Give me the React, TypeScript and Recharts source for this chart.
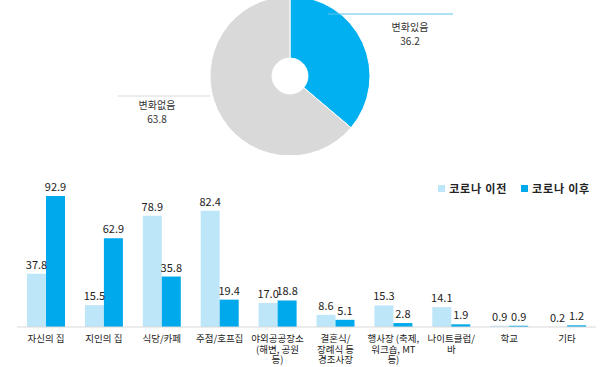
import React from 'react';
import { PieChart, Pie, Cell, BarChart, Bar, XAxis, YAxis, Legend, LabelList } from 'recharts';

const pieNames = ['변화있음', '변화없음'];
const pieValues = [36.2, 63.8];
const pieColors = ['#00B0F0', '#D9D9D9'];

const places = [
  '자신의 집',
  '지인의 집',
  '식당/카페',
  '주점/호프집',
  '야외공공장소\n(해변, 공원\n등)',
  '결혼식/\n장례식 등\n경조사장',
  '행사장 (축제,\n워크숍, MT\n등)',
  '나이트클럽/\n바',
  '학교',
  '기타',
];
const beforeCovid = [37.8, 15.5, 78.9, 82.4, 17.0, 8.6, 15.3, 14.1, 0.9, 0.2];
const afterCovid = [92.9, 62.9, 35.8, 19.4, 18.8, 5.1, 2.8, 1.9, 0.9, 1.2];

const FONT = '"Noto Sans CJK KR", "Noto Sans", sans-serif';
const LIGHT = '#BDE6F9';
const DARK = '#00A9EC';

const pieData = pieNames.map((name, i) => ({ name, value: pieValues[i] }));
const barData = places.map((place, i) => ({
  place,
  before: beforeCovid[i],
  after: afterCovid[i],
}));

// leader line + two-line label for each slice
const renderPieLabel = (props: any) => {
  const { cx, cy, midAngle, name, value, index } = props;
  const right = Math.cos((-midAngle * Math.PI) / 180) > 0;
  if (right) {
    return (
      <g key={index}>
        <line x1={cx + 38} y1={cy - 62} x2={cx + 163} y2={cy - 62} stroke="#5BC3EE" strokeWidth={1} />
        <text x={cx + 120} y={cy - 45} textAnchor="middle" fontSize={10} fill="#333" fontFamily={FONT}>{name}</text>
        <text x={cx + 120} y={cy - 31} textAnchor="middle" fontSize={10} fill="#333" fontFamily={FONT}>{value.toFixed(1)}</text>
      </g>
    );
  }
  return (
    <g key={index}>
      <line x1={cx - 172} y1={cy + 20} x2={cx - 80} y2={cy + 20} stroke="#D9D9D9" strokeWidth={1} />
      <text x={cx - 133} y={cy + 33} textAnchor="middle" fontSize={10} fill="#333" fontFamily={FONT}>{name}</text>
      <text x={cx - 133} y={cy + 47} textAnchor="middle" fontSize={10} fill="#333" fontFamily={FONT}>{value.toFixed(1)}</text>
    </g>
  );
};

const PlaceTick = (props: any) => {
  const { x, y, payload } = props;
  const lines = String(payload.value).split('\n');
  return (
    <g transform={`translate(${x},${y})`}>
      {lines.map((l: string, i: number) => (
        <text key={i} x={0} y={7 + i * 10.5} textAnchor="middle" fontSize={9.5} fill="#222" fontFamily={FONT}>
          {l}
        </text>
      ))}
    </g>
  );
};

const LegendBox = () => (
  <div style={{ display: 'flex', justifyContent: 'flex-end', gap: 14, fontFamily: FONT, fontSize: 11, color: '#222', fontWeight: 600, letterSpacing: 0.8 }}>
    {[{ c: LIGHT, t: '코로나 이전' }, { c: DARK, t: '코로나 이후' }].map((e) => (
      <span key={e.t} style={{ display: 'flex', alignItems: 'center' }}>
        <span style={{ display: 'inline-block', width: 7, height: 7, background: e.c, marginRight: 4 }} />
        {e.t}
      </span>
    ))}
  </div>
);

export default function App() {
  return (
    <div style={{ position: 'absolute', left: 0, top: 0, width: 600, height: 367, background: '#fff', overflow: 'hidden' }}>
      <div style={{ position: 'absolute', left: 0, top: 0 }}>
        <PieChart width={600} height={155}>
          <Pie
            data={pieData}
            dataKey="value"
            nameKey="name"
            cx={285}
            cy={71}
            innerRadius={18}
            outerRadius={80}
            startAngle={90}
            endAngle={-270}
            stroke="#fff"
            strokeWidth={1}
            label={renderPieLabel}
            labelLine={false}
            isAnimationActive={false}
          >
            {pieData.map((d, i) => (
              <Cell key={d.name} fill={pieColors[i]} />
            ))}
          </Pie>
        </PieChart>
      </div>
      <div style={{ position: 'absolute', left: 0, top: 160 }}>
        <BarChart
          width={600}
          height={207}
          data={barData}
          margin={{ top: 12, right: 4, left: 17, bottom: 0 }}
          barGap={0}
          barSize={19}
        >
          <XAxis
            dataKey="place"
            axisLine={{ stroke: '#D9D9D9' }}
            tickLine={false}
            interval={0}
            tick={<PlaceTick />}
            height={40}
          />
          <YAxis hide domain={[0, 100]} width={0} />
          <Legend
            verticalAlign="top"
            align="right"
            content={<LegendBox />}
            wrapperStyle={{ position: 'absolute', top: 20, right: 10, width: 200, height: 14 }}
          />
          <Bar dataKey="before" name="코로나 이전" fill={LIGHT} isAnimationActive={false}>
            <LabelList dataKey="before" position="top" offset={5} formatter={(v: any) => Number(v).toFixed(1)} fontSize={11} fill="#222" fontFamily={FONT} />
          </Bar>
          <Bar dataKey="after" name="코로나 이후" fill={DARK} isAnimationActive={false}>
            <LabelList dataKey="after" position="top" offset={5} formatter={(v: any) => Number(v).toFixed(1)} fontSize={11} fill="#222" fontFamily={FONT} />
          </Bar>
        </BarChart>
      </div>
    </div>
  );
}
